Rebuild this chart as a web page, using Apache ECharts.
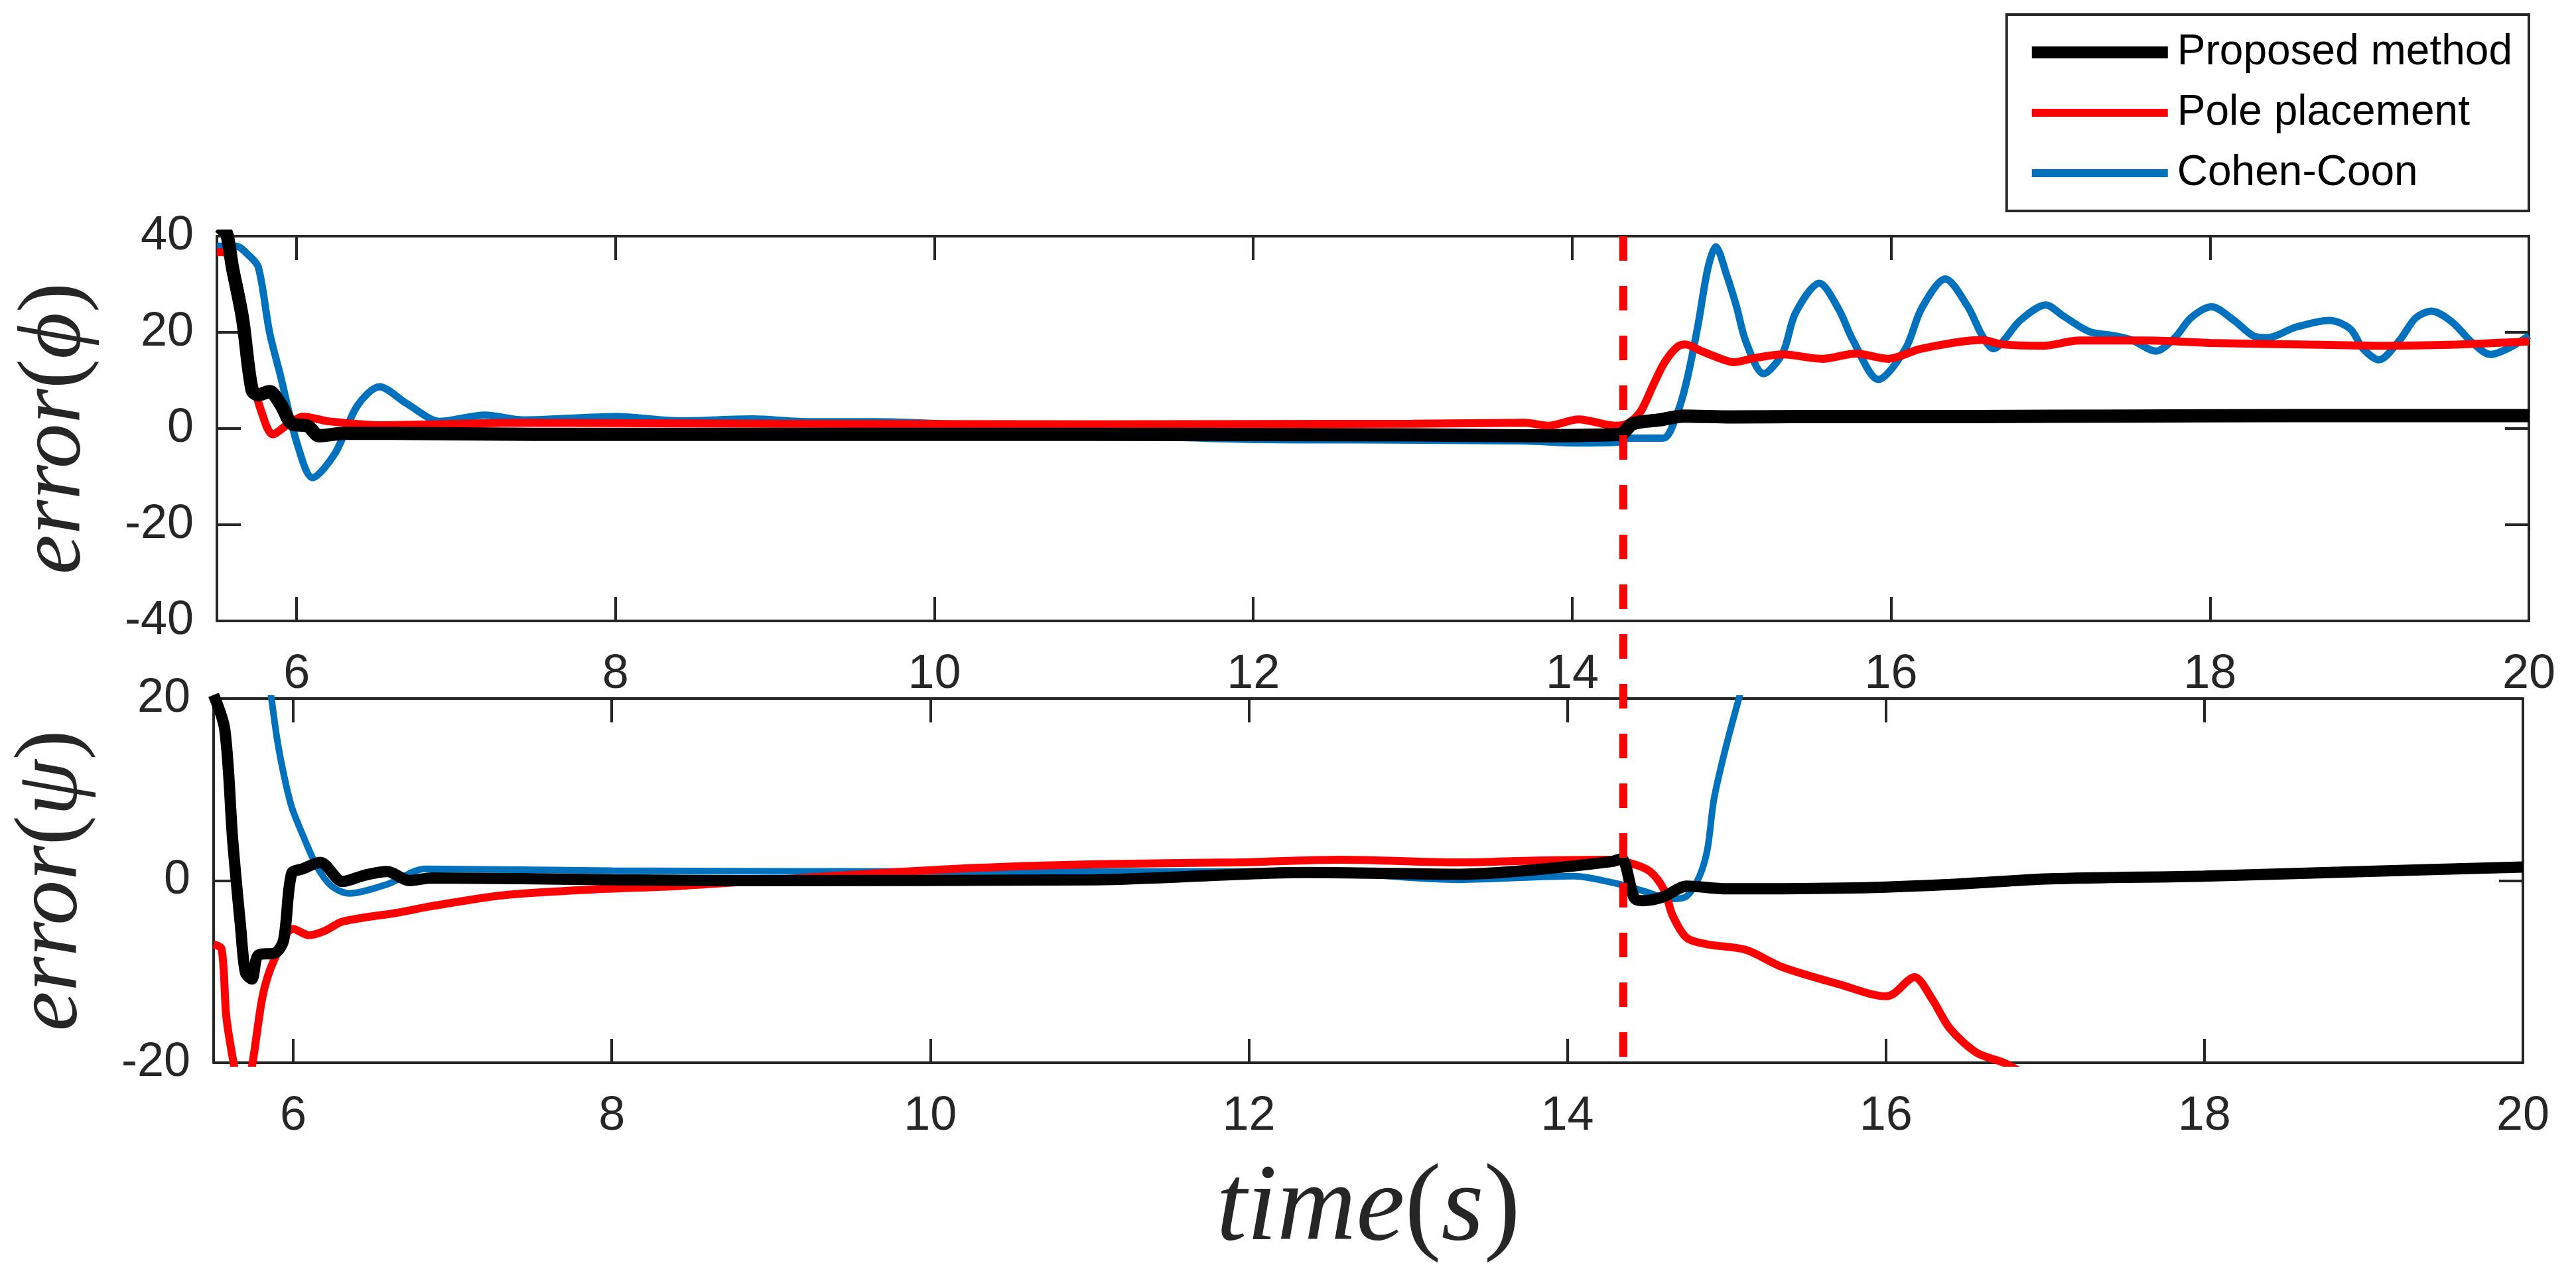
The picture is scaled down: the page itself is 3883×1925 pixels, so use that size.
<!DOCTYPE html>
<html>
<head>
<meta charset="utf-8">
<title>error phi / psi</title>
<script src="https://cdn.jsdelivr.net/npm/echarts@6.0.0/dist/echarts.min.js"></script>
<style>
  html, body { margin: 0; padding: 0; background: #fff; }
  #chart { width: 3883px; height: 1925px; }
</style>
</head>
<body>
<div id="chart"></div>
<script>
// legend names
var seriesNames = ['Proposed method', 'Pole placement', 'Cohen-Coon'];

// x range (time, s)
var timeMin = 5.5;
var timeMax = 20;

// error(phi) - [time, value]
var phiProposed = [[5.52, 40], [5.55, 41], [5.60, 33], [5.66, 23], [5.72, 8], [5.76, 7], [5.83, 7.7], [5.9, 5],
    [5.97, 1], [6.07, 0.5], [6.14, -1.5], [6.3, -1], [6.6, -1], [7.5, -1.2], [9, -1.2], [11, -1.2], [13, -1.3],
    [13.7, -1.5], [14.3, -1.2], [14.38, 1.0], [14.55, 1.8], [14.7, 2.6], [15, 2.4], [15.5, 2.5], [16.5, 2.5],
    [17.5, 2.6], [18.5, 2.7], [20, 2.7]];
var phiPole = [[5.5, 36.7], [5.56, 36.5], [5.6, 33], [5.66, 23], [5.72, 10.8], [5.78, 3.4], [5.85, -1.2], [5.95, 1.0],
    [6.04, 2.5], [6.2, 1.5], [6.55, 0.7], [7.4, 1.2], [9, 1.0], [11, 0.9], [13, 1.0], [13.7, 1.2], [13.85, 0.6],
    [14.04, 1.9], [14.27, 0.6], [14.35, 1.1], [14.43, 3.6], [14.51, 9.2], [14.58, 13.8], [14.66, 17], [14.71, 17.5],
    [14.81, 16.1], [14.95, 14.3], [15.01, 13.8], [15.15, 14.7], [15.32, 15.4], [15.57, 14.5], [15.78, 15.6],
    [15.98, 14.5], [16.19, 16.6], [16.57, 18.4], [16.7, 17.5], [16.95, 17.2], [17.18, 18.3], [17.6, 18.3],
    [18.0, 17.8], [18.7, 17.4], [19.1, 17.2], [19.5, 17.4], [20, 18.1]];
var phiCohen = [[5.5, 37.9], [5.62, 37.9], [5.7, 36], [5.76, 33.5], [5.83, 20], [5.9, 10.8], [6.0, -2.8], [6.1, -10.2],
    [6.24, -5.2], [6.38, 4.7], [6.52, 8.7], [6.69, 5.2], [6.9, 1.5], [7.18, 2.8], [7.42, 1.8], [8.0, 2.5], [8.41, 1.6],
    [8.86, 2.0], [9.22, 1.4], [9.63, 1.4], [10.2, 0.7], [11, -1], [11.9, -2.2], [13, -2.4], [13.7, -2.6], [14.04, -3.0],
    [14.3, -2.8], [14.35, -2.0], [14.57, -2.0], [14.66, 3.3], [14.72, 10.2], [14.79, 21.7], [14.85, 33.2], [14.9, 37.8],
    [14.97, 31.8], [15.03, 25.4], [15.09, 18], [15.2, 11.4], [15.32, 15.7], [15.4, 24], [15.55, 30.2], [15.67, 24.9],
    [15.76, 18.4], [15.92, 10.2], [16.09, 16.6], [16.19, 24.9], [16.34, 31.1], [16.48, 25.4], [16.57, 19.4],
    [16.64, 16.6], [16.81, 22.5], [16.97, 25.7], [17.08, 23.4], [17.24, 20.2], [17.4, 19.3], [17.51, 18.4],
    [17.66, 16.1], [17.78, 18.9], [17.88, 23], [18.01, 25.3], [18.15, 22.5], [18.27, 19.3], [18.36, 18.9],
    [18.54, 21.1], [18.75, 22.5], [18.88, 20.7], [18.96, 16.6], [19.06, 14.3], [19.19, 18.4], [19.29, 23],
    [19.39, 24.4], [19.52, 22.1], [19.64, 18], [19.76, 15.4], [19.89, 17], [20, 19.3]];

// error(psi) - [time, value]
var psiProposed = [[5.5, 20.4], [5.57, 16.6], [5.62, 4.4], [5.67, -5.2], [5.70, -10.1], [5.74, -10.8], [5.78, -8.2],
    [5.89, -7.9], [5.94, -6.5], [5.99, 0.8], [6.06, 1.3], [6.17, 2.0], [6.31, -0.1], [6.45, 0.6], [6.59, 1.0],
    [6.73, 0], [6.87, 0.3], [8, 0.1], [8.85, 0], [11.04, 0.1], [12.36, 0.9], [13.32, 0.7], [13.8, 1.2], [14.28, 2.1],
    [14.34, 2.4], [14.42, -1.9], [14.47, -2.2], [14.6, -1.8], [14.75, -0.6], [15, -0.9], [15.8, -0.8], [16.43, -0.4],
    [17.03, 0.2], [18, 0.5], [19, 1.0], [20, 1.5]];
var psiPole = [[5.5, -7], [5.55, -7.5], [5.58, -15], [5.63, -20.5], [5.68, -25], [5.74, -20.5], [5.81, -12.5],
    [5.88, -8.7], [6.0, -5.3], [6.1, -6.0], [6.2, -5.5], [6.31, -4.5], [6.66, -3.5], [6.87, -2.8], [7.32, -1.6],
    [7.97, -0.9], [8.41, -0.6], [9.29, 0.4], [10.16, 1.3], [11.04, 1.8], [11.92, 2.0], [12.58, 2.3], [13.32, 2.0],
    [13.8, 2.2], [14.26, 2.3], [14.4, 1.9], [14.52, 1.0], [14.61, -1.1], [14.66, -3.8], [14.75, -6.3], [14.88, -7.0],
    [15.12, -7.6], [15.35, -9.5], [15.71, -11.4], [16.0, -12.7], [16.05, -12.4], [16.18, -10.6], [16.29, -13],
    [16.4, -16.2], [16.57, -18.9], [16.74, -20], [16.9, -21.5], [17.2, -24]];
var psiCohen = [[5.5, 45], [5.7, 38], [5.8, 28], [5.86, 20.4], [5.9, 15.4], [5.94, 11.7], [5.99, 8.1], [6.06, 5],
    [6.15, 1.5], [6.24, -0.6], [6.35, -1.4], [6.59, -0.4], [6.83, 1.3], [8, 1.1], [10, 1.0], [12.36, 1.0],
    [13.32, 0.1], [14.04, 0.5], [14.33, -0.4], [14.47, -1.1], [14.66, -2.0], [14.75, -1.7], [14.83, 0.5],
    [14.88, 3.5], [14.92, 8.9], [14.99, 14.3], [15.08, 20.2], [15.2, 28], [15.3, 36]];

// disturbance instant (dashed red line across both panels)
var disturbance = [[14.32, 1], [14.32, 0]];

var axisColor = '#262626';
var colBlack = '#000000', colRed = '#FF0000', colBlue = '#0072BD';
var tickFont = 'Liberation Sans';

function xAx(grid, pos, labels, name) {
    var a = {
        type: 'value', gridIndex: grid, position: pos, min: timeMin, max: timeMax,
        splitNumber: 7, minInterval: 2, maxInterval: 2,
        axisLine: { show: true, onZero: false, lineStyle: { color: axisColor, width: 4 } },
        axisTick: { show: true, inside: true, length: 36, lineStyle: { color: axisColor, width: 4 } },
        axisLabel: { show: labels, showMinLabel: false, fontSize: 72, fontFamily: tickFont, color: axisColor, margin: 45 },
        splitLine: { show: false }
    };
    if (name) {
        a.name = name;
        a.nameLocation = 'middle';
        a.nameGap = 140;
        a.nameTextStyle = {
            rich: {
                i: { fontFamily: 'Liberation Serif', fontStyle: 'italic', fontSize: 165, color: axisColor },
                u: { fontFamily: 'Liberation Serif', fontSize: 165, color: axisColor }
            }
        };
    }
    return a;
}

function yAx(grid, pos, labels, lo, hi, name) {
    var a = {
        type: 'value', gridIndex: grid, position: pos, min: lo, max: hi, interval: 20,
        axisLine: { show: true, onZero: false, lineStyle: { color: axisColor, width: 4 } },
        axisTick: { show: true, inside: true, length: 36, lineStyle: { color: axisColor, width: 4 } },
        axisLabel: { show: labels, fontSize: 72, fontFamily: tickFont, color: axisColor, margin: 35 },
        splitLine: { show: false }
    };
    if (name) {
        a.name = name;
        a.nameLocation = 'middle';
        a.nameGap = 175;
        a.nameTextStyle = {
            rich: {
                i: { fontFamily: 'Liberation Serif', fontStyle: 'italic', fontSize: 135, color: axisColor },
                u: { fontFamily: 'Liberation Serif', fontSize: 135, color: axisColor }
            }
        };
    }
    return a;
}

function line(name, data, x, y, color, width) {
    return {
        name: name, type: 'line', xAxisIndex: x, yAxisIndex: y, data: data,
        symbol: 'none', smooth: 0.3, clip: true,
        lineStyle: { color: color, width: width }, itemStyle: { color: color },
        z: color === colBlack ? 4 : (color === colRed ? 3 : 2)
    };
}

var mychart = echarts.init(document.getElementById('chart'));

var option = {
    backgroundColor: '#ffffff',
    animation: false,
    grid: [
        { left: 327, right: 71, top: 356, height: 580 },
        { left: 322, right: 80, top: 1053, height: 549 },
        { left: 327, right: 71, top: 356, height: 1246 }
    ],
    legend: {
        data: [
            { name: seriesNames[0], lineStyle: { width: 18 } },
            { name: seriesNames[1], lineStyle: { width: 12 } },
            { name: seriesNames[2], lineStyle: { width: 12 } }
        ],
        orient: 'vertical',
        right: 71,
        top: 22,
        padding: [22, 25, 22, 29],
        itemWidth: 205,
        itemHeight: 24,
        itemGap: 21,
        backgroundColor: '#ffffff',
        borderColor: axisColor,
        borderWidth: 4,
        lineStyle: { width: 'inherit' },
        itemStyle: { opacity: 0 },
        textStyle: { fontSize: 64, fontFamily: tickFont, color: '#000', lineHeight: 70, padding: [0, 0, 0, 9] }
    },
    xAxis: [
        xAx(0, 'bottom', true),
        xAx(0, 'top', false),
        xAx(1, 'bottom', true, '{i|time}{u|(}{i|s}{u|)}'),
        xAx(1, 'top', false),
        { type: 'value', gridIndex: 2, min: timeMin, max: timeMax, show: false }
    ],
    yAxis: [
        yAx(0, 'left', true, -40, 40, '{i|error}{u|(}{i|ϕ}{u|)}'),
        yAx(0, 'right', false, -40, 40),
        yAx(1, 'left', true, -20, 20, '{i|error}{u|(}{i|ψ}{u|)}'),
        yAx(1, 'right', false, -20, 20),
        { type: 'value', gridIndex: 2, min: 0, max: 1, show: false }
    ],
    series: [
        line('Cohen-Coon', phiCohen, 0, 0, colBlue, 11),
        line('Pole placement', phiPole, 0, 0, colRed, 12),
        line('Proposed method', phiProposed, 0, 0, colBlack, 20),
        line('Cohen-Coon', psiCohen, 2, 2, colBlue, 10),
        line('Pole placement', psiPole, 2, 2, colRed, 12),
        line('Proposed method', psiProposed, 2, 2, colBlack, 17),
        {
            name: 'disturbance', type: 'line', xAxisIndex: 4, yAxisIndex: 4, data: disturbance,
            symbol: 'none', z: 5,
            lineStyle: { color: colRed, width: 12, type: [37, 38] }
        }
    ]
};

mychart.setOption(option);
</script>
</body>
</html>
